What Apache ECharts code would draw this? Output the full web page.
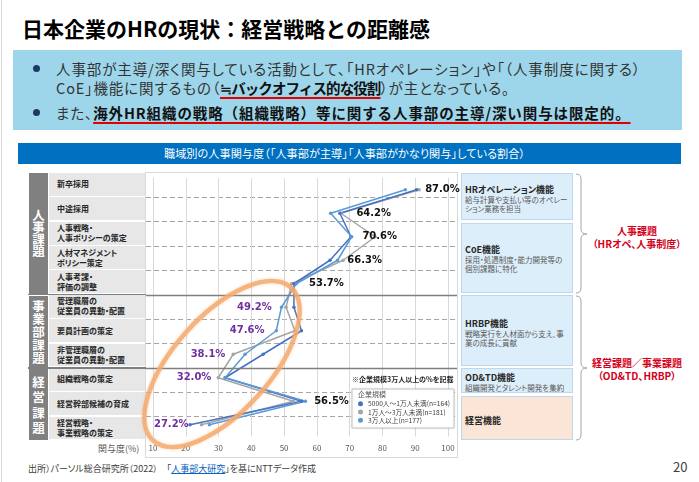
<!DOCTYPE html>
<html lang="ja">
<head>
<meta charset="UTF-8">
<title>日本企業のHRの現状</title>
<script src="https://cdn.jsdelivr.net/npm/echarts@6/dist/echarts.min.js"></script>
<style>
    body { margin:0; width:699px; height:482px; overflow:hidden; background:#fff; position:relative;
           font-family:"Noto Sans CJK JP", sans-serif; font-feature-settings:"palt"; color:#262626; }
    .abs { position:absolute; white-space:nowrap; }
    #title { left:22px; top:14px; font-size:21px; line-height:28px; font-weight:700; color:#000; font-feature-settings:normal; }
    #msg { left:13px; top:50px; width:669px; height:80px; background:#9DD6EA; }
    .dot { position:absolute; width:7px; height:7px; border-radius:50%; background:#1F3864; }
    .msgline { position:absolute; left:43px; font-size:14.5px; line-height:19px; color:#333; white-space:nowrap; letter-spacing:0.9px; }
    .msgline b { color:#111; text-decoration:underline; text-decoration-color:#E00000; text-decoration-thickness:1.5px;
                 text-underline-offset:3px; font-feature-settings:normal; }
    #head { left:18px; top:143px; width:663px; height:21px; line-height:21px; background:#0070C0; color:#fff;
            font-size:11.2px; text-align:center; padding-right:10px; box-sizing:border-box; }
    #frame { left:145px; top:172px; width:311px; height:284px; border:1px solid #D9D9D9; }
    .rowlab { position:absolute; left:49px; width:96px; background:#E7E7E7; display:flex; align-items:center;
              padding-left:8px; box-sizing:border-box; font-size:8px; line-height:10px; font-weight:700; color:#262626; }
    .grp { position:absolute; left:29px; width:19px; background:#808080; color:#fff; font-weight:700; font-size:12.5px;
           display:flex; flex-direction:column; align-items:center; justify-content:center; }
    .sep { position:absolute; left:28px; width:118px; height:1.3px; background:#7F7F7F; }
    .box { position:absolute; left:461px; width:112px; box-sizing:border-box; background:#DDEEFB; border:1px solid #BDD7EE;
           padding-left:3px; }
    .box .t { font-size:9px; line-height:11px; font-weight:700; color:#262626; white-space:nowrap; }
    .box .s { font-size:7.5px; line-height:9.5px; color:#595959; white-space:nowrap; }
    .red { left:587px; width:100px; text-align:center; color:#D40020; font-weight:700; font-size:10px; line-height:13px; }
    #axname { left:98px; top:443px; font-size:9px; line-height:12px; color:#595959; }
    #foot { left:28px; top:462px; font-size:9px; line-height:14px; color:#404040; }
    #foot span { color:#0563C1; text-decoration:underline; }
    #page { left:673px; top:459px; font-size:13px; line-height:16px; color:#404040; }
    #main { position:absolute; left:0; top:0; width:699px; height:482px; }
</style>
</head>
<body>
<div class="abs" style="left:1px;top:0;width:1px;height:482px;background:#D9D9D9;"></div>
<div class="abs" id="title">日本企業のHRの現状：経営戦略との距離感</div>
<div class="abs" id="msg">
    <div class="dot" style="left:19.5px;top:14.5px;"></div>
    <div class="msgline" style="top:8.5px;">人事部が主導/深く関与している活動として、「HRオペレーション」や「（人事制度に関する）</div>
    <div class="msgline" style="top:27.5px;">CoE」機能に関するもの（<b style="letter-spacing:-0.9px;">≒バックオフィス的な役割</b>）が主となっている。</div>
    <div class="dot" style="left:19.5px;top:58.5px;"></div>
    <div class="msgline" style="top:52.5px;">また、<b>海外HR組織の戦略（組織戦略）等に関する人事部の主導/深い関与は限定的。</b></div>
</div>
<div class="abs" id="head">職域別の人事関与度（「人事部が主導」「人事部がかなり関与」している割合）</div>
<div class="abs" id="frame"></div>
<div id="table"></div>
<div class="abs" id="axname">関与度(%)</div>

<div class="box" style="top:173px;height:47px;padding-top:9.5px;">
    <div class="t">HRオペレーション機能</div>
    <div class="s">給与計算や支払い等のオペレー<br>ション業務を担当</div>
</div>
<div class="box" style="top:223px;height:70px;padding-top:19.5px;">
    <div class="t">CoE機能</div>
    <div class="s">採用・処遇制度・能力開発等の<br>個別課題に特化</div>
</div>
<div class="box" style="top:295px;height:71px;padding-top:21.5px;">
    <div class="t">HRBP機能</div>
    <div class="s">戦略実行を人材面から支え、事<br>業の成長に貢献</div>
</div>
<div class="box" style="top:368px;height:25px;padding-top:2.5px;">
    <div class="t">OD&amp;TD機能</div>
    <div class="s">組織開発とタレント開発を集約</div>
</div>
<div class="box" style="top:396px;height:44px;padding-top:17.5px;background:#FBE5D6;">
    <div class="t">経営機能</div>
</div>

<svg class="abs" style="left:0;top:0;" width="699" height="482">
    <path d="M576 174 Q581 174 581 179 L581 229 Q581 234 587 234 Q581 234 581 239 L581 288 Q581 293 576 293"
          fill="none" stroke="#A6A6A6" stroke-width="1"/>
    <path d="M576 296 Q581 296 581 301 L581 363 Q581 368 587 368 Q581 368 581 373 L581 435 Q581 440 576 440"
          fill="none" stroke="#A6A6A6" stroke-width="1"/>
</svg>
<div class="abs red" style="top:224px;">人事課題<br>（HRオペ、人事制度）</div>
<div class="abs red" style="top:355.5px;">経営課題／事業課題<br>（OD&amp;TD、HRBP）</div>

<div class="abs" id="foot">出所）パーソル総合研究所（2022）　「<span>人事部大研究</span>」を基にNTTデータ作成</div>
<div class="abs" id="page">20</div>

<div id="main"></div>

<script type="text/javascript">
    // 職域（縦軸カテゴリ）
    var categories = ['新卒採用', '中途採用', '人事戦略・\n人事ポリシーの策定', '人材マネジメント\nポリシー策定',
        '人事考課・\n評価の調整', '管理職層の\n従業員の異動・配置', '要員計画の策定', '非管理職層の\n従業員の異動・配置',
        '組織戦略の策定', '経営幹部候補の育成', '経営戦略・\n事業戦略の策定'];
    var groupNames = ['人事課題', '事業部課題', '経営課題'];
    var groupSizes = [5, 3, 3];

    // 企業規模別の関与度(%)
    var seriesNames = ['5000人～1万人未満(n=164)', '1万人～3万人未満(n=181)', '3万人以上(n=177)'];
    var under10k = [90.4, 67.0, 70.4, 64.0, 53.0, 53.0, 55.3, 43.6, 32.0, 55.3, 21.3];
    var under30k = [91.2, 67.3, 77.8, 68.0, 52.3, 50.6, 53.3, 34.5, 29.9, 52.8, 24.8];
    var over30k  = [87.0, 64.2, 70.6, 66.3, 53.7, 49.2, 47.6, 38.1, 32.0, 56.5, 27.2];

    // 横軸
    var xMin = 10, xMax = 100, xStep = 10;

    // 囲み（紫ラベル）の行と、ラベルの離れ
    var circledRows = [5, 6, 7, 8, 10];
    var labelGap = [18, 24, 9, 8, 11, 8, 10, 18, 12, 7, 19];

    // 左の表
    var rowTop = 173, rowH = 268 / 11;
    var tbl = document.getElementById('table');
    categories.forEach(function (c, i) {
        var d = document.createElement('div');
        d.className = 'rowlab';
        d.style.top = (rowTop + i * rowH) + 'px';
        d.style.height = (rowH - 1.5) + 'px';
        d.innerHTML = c.replace('\n', '<br>');
        tbl.appendChild(d);
    });
    var lh = [12, 13, 15.5];
    var start = 0, breaks = [];
    groupNames.forEach(function (g, k) {
        var d = document.createElement('div');
        d.className = 'grp';
        d.style.top = (rowTop + start * rowH + (k ? 1.5 : 0)) + 'px';
        d.style.height = (groupSizes[k] * rowH - (k ? 2 : 1)) + 'px';
        d.style.lineHeight = lh[k] + 'px';
        d.innerHTML = g.split('').map(function (ch) { return '<div>' + ch + '</div>'; }).join('');
        tbl.appendChild(d);
        start += groupSizes[k];
        if (k < groupNames.length - 1) {
            breaks.push(start);
            var s = document.createElement('div');
            s.className = 'sep';
            s.style.top = (rowTop + start * rowH - 0.7) + 'px';
            tbl.appendChild(s);
        }
    });

    var myChart = echarts.init(document.getElementById('main'));

    function pairs(arr) {
        return arr.map(function (v, i) { return [v, i]; });
    }

    var labelData = over30k.map(function (v, i) {
        var left = circledRows.indexOf(i) >= 0;
        return {
            value: [v, i],
            label: {
                show: true,
                position: left ? 'left' : 'right',
                distance: labelGap[i],
                color: left ? '#7030A0' : '#111'
            }
        };
    });

    var option = {
        animation: false,
        textStyle: {fontFamily: 'Noto Sans CJK JP'},
        grid: [
            {left: 146, top: 173, width: 311, height: 268},
            {left: 153, top: 178, width: 295, height: 258.5}
        ],
        xAxis: [
            {gridIndex: 0, type: 'value', min: 0, max: 1, show: false},
            {
                gridIndex: 1, type: 'value', min: xMin, max: xMax, interval: xStep,
                axisLine: {show: false}, axisTick: {show: false},
                axisLabel: {fontSize: 8, color: '#595959', margin: 7},
                splitLine: {show: true, lineStyle: {color: '#D9D9D9', width: 1}}
            }
        ],
        yAxis: [
            {
                gridIndex: 0, type: 'value', min: 0, max: categories.length, interval: 1, inverse: true,
                axisLine: {show: false}, axisTick: {show: false}, axisLabel: {show: false},
                splitLine: {show: true, showMinLine: false, showMaxLine: false,
                    lineStyle: {type: [5, 3], color: '#A6A6A6', width: 1}}
            },
            {gridIndex: 1, type: 'category', data: categories, inverse: true, show: false}
        ],
        legend: {
            orient: 'vertical', left: 358, top: 400.5, padding: 0,
            itemWidth: 5, itemHeight: 5, itemGap: 1.5, icon: 'circle',
            data: seriesNames,
            textStyle: {fontSize: 6.7, color: '#404040'}
        },
        series: [
            {
                type: 'line', xAxisIndex: 0, yAxisIndex: 0, data: [[0, 0]], showSymbol: false,
                lineStyle: {opacity: 0}, silent: true,
                markLine: {
                    symbol: 'none', silent: true, label: {show: false},
                    lineStyle: {type: 'solid', color: '#7F7F7F', width: 1.3},
                    data: breaks.map(function (b) { return {yAxis: b}; })
                }
            },
            {
                name: seriesNames[1], type: 'line', xAxisIndex: 1, yAxisIndex: 1, data: pairs(under30k),
                color: '#A5A5A5', symbol: 'circle', symbolSize: 3.5, lineStyle: {width: 1.5}
            },
            {
                name: seriesNames[0], type: 'line', xAxisIndex: 1, yAxisIndex: 1, data: pairs(under10k),
                color: '#4472C4', symbol: 'circle', symbolSize: 3.5, lineStyle: {width: 1.5}
            },
            {
                name: seriesNames[2], type: 'line', xAxisIndex: 1, yAxisIndex: 1, data: labelData,
                color: '#5B9BD5', symbol: 'circle', symbolSize: 3.5, lineStyle: {width: 1.5},
                label: {
                    fontFamily: 'DejaVu Sans', fontWeight: 'bold', fontSize: 10,
                    formatter: function (p) { return p.value[0].toFixed(1) + '%'; }
                }
            }
        ],
        graphic: [
            {
                type: 'rect', z: 3, silent: true,
                shape: {x: 352, y: 389, width: 102, height: 39},
                style: {fill: '#fff', stroke: '#BFBFBF', lineWidth: 0.8,
                    shadowBlur: 2, shadowColor: 'rgba(0,0,0,0.15)'}
            },
            {
                type: 'text', z: 4, silent: true, x: 358, y: 394,
                style: {text: '企業規模', fontSize: 7, fill: '#595959', verticalAlign: 'middle',
                    fontFamily: 'Noto Sans CJK JP'}
            },
            {
                type: 'text', z: 4, silent: true, x: 352, y: 379,
                style: {text: '※企業規模3万人以上の%を記載', fontSize: 7, fontWeight: 'bold', fill: '#262626',
                    verticalAlign: 'middle', fontFamily: 'Noto Sans CJK JP'}
            },
            {
                type: 'ellipse', z: 10, silent: true, x: 222, y: 364, rotation: 48 * Math.PI / 180,
                shape: {cx: 0, cy: 0, rx: 103, ry: 48},
                style: {fill: 'none', stroke: 'rgba(244,170,110,0.8)', lineWidth: 4.5,
                    shadowBlur: 3, shadowColor: 'rgba(244,160,100,0.6)'}
            }
        ]
    };
    myChart.setOption(option);
</script>
</body>
</html>
